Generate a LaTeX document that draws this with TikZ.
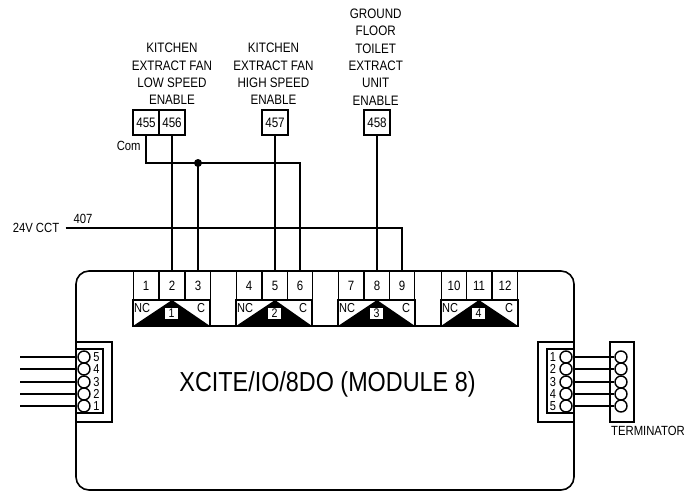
\documentclass[tikz,border=0pt]{standalone}
\usepackage{fontspec}
\setmainfont[FakeStretch=0.85]{Liberation Sans}
\begin{document}
\begin{tikzpicture}[x=1pt,y=-1pt,
  wire/.style={line width=1.5pt,black},
  frame/.style={line width=1.5pt,black},
  lbl/.style={inner sep=0pt,align=center,font=\fontsize{13.7}{17.3}\selectfont},
  small/.style={inner sep=0pt,font=\fontsize{13.3}{13.3}\selectfont},
  tagbox/.style={draw,line width=1.6pt,minimum width=25.7pt,minimum height=25.5pt,inner sep=0pt,font=\fontsize{13.7}{13.7}\selectfont},
  cell/.style={draw,line width=1.4pt,minimum width=25.5pt,minimum height=29pt,inner sep=0pt,font=\fontsize{13.5}{13.5}\selectfont},
  pin/.style={circle,draw,line width=1.4pt,fill=white,minimum size=12pt,inner sep=0pt},
  pinnum/.style={inner sep=0pt,font=\fontsize{13}{13}\selectfont},
  tri/.style={fill=black},
  trinum/.style={fill=white,minimum width=12.5pt,minimum height=11pt,inner sep=0pt,font=\fontsize{12.5}{12.5}\selectfont},
  nc/.style={inner sep=0pt,font=\fontsize{13}{13}\selectfont}]
\useasboundingbox (0,0) rectangle (689,493);
\fill[white] (0,0) rectangle (689,493);
% main box
\draw[line width=1.6pt,rounded corners=13pt] (76,271) rectangle (574,490);
\node[inner sep=0pt,font=\fontsize{27.5}{27.5}\selectfont] (title) at (327.5,384) {XCITE/IO/8DO (MODULE 8)};
% tags and their captions
\node[tagbox] (t455) at (146,122.5) {455};
\node[tagbox] (t456) at (172,122.5) {456};
\node[tagbox] (t457) at (275,122.5) {457};
\node[tagbox] (t458) at (377,122.5) {458};
\node[lbl] (cap1) at (172,74) {KITCHEN\\EXTRACT FAN\\LOW SPEED\\ENABLE};
\node[lbl] (cap2) at (273.5,74) {KITCHEN\\EXTRACT FAN\\HIGH SPEED\\ENABLE};
\node[lbl] (cap3) at (375.7,57) {GROUND\\FLOOR\\TOILET\\EXTRACT\\UNIT\\ENABLE};
\node[small] (com) at (128.7,145.7) {Com};
\node[small] (cct) at (36,227.5) {24V CCT};
\node[small] (n407) at (83,219) {407};
% relay output groups
\foreach \n/\x in {1/146,2/172,3/198,4/249,5/275,6/300,7/351,8/377,9/402,10/454,11/479,12/505}
  \node[cell] (c\n) at (\x,285.5) {\n};
\foreach \n/\l/\m/\r in {1/133/172/210,2/236/275/312,3/338/377/415,4/441/479/518}{
  \draw[frame] (\l,300) rectangle (\r,326);
  \fill[tri] (\l,326) -- (\m,300) -- (\r,326) -- cycle;
  \node[trinum] (r\n) at (\m-0.3,313.5) {\n};
  \node[nc] at (\l+9.2,308.5) {NC};
  \node[nc] at (\r-9,308.5) {C};
}
\draw[frame] (133,326) -- (518,326);
% wires
\node[circle,fill=black,minimum size=8pt,inner sep=0pt] (dot) at (198,163) {};
\coordinate (vstart) at (65.7,228);
\draw[wire] (t456.south) -- (c2.north);
\draw[wire] (t457.south) -- (c5.north);
\draw[wire] (t458.south) -- (c8.north);
\draw[wire] (t455.south) |- (dot.center) -| (c6.north);
\draw[wire] (dot.center) -- (c3.north);
\draw[wire] (vstart) -| (c9.north);
% left connector
\draw[frame] (76,342) -- (112,342) -- (112,422) -- (76,422);
\draw[line width=1.1pt] (76.5,349) rectangle (103,413);
% right connector
\draw[frame] (574,342) -- (538,342) -- (538,422) -- (574,422);
\draw[line width=1.1pt] (573,349) -- (547,349) -- (547,413) -- (573,413);
% terminator
\draw[frame] (610,342) rectangle (634,422);
\node[small] (term) at (648,431) {TERMINATOR};
\foreach \i/\y/\a/\b in {1/357/5/1,2/369/4/2,3/382/3/3,4/394/2/4,5/406/1/5}{
  \coordinate (free\i) at (20,\y);
  \node[pin] (lp\i) at (84,\y) {};
  \node[pin] (rp\i) at (566,\y) {};
  \node[pin] (tp\i) at (621,\y) {};
  \draw[wire] (free\i) -- (lp\i.west);
  \draw[wire] (rp\i.east) -- (tp\i.west);
  \node[pinnum] at (96.5,\y) {\a};
  \node[pinnum] at (553,\y) {\b};
}
\end{tikzpicture}
\end{document}
